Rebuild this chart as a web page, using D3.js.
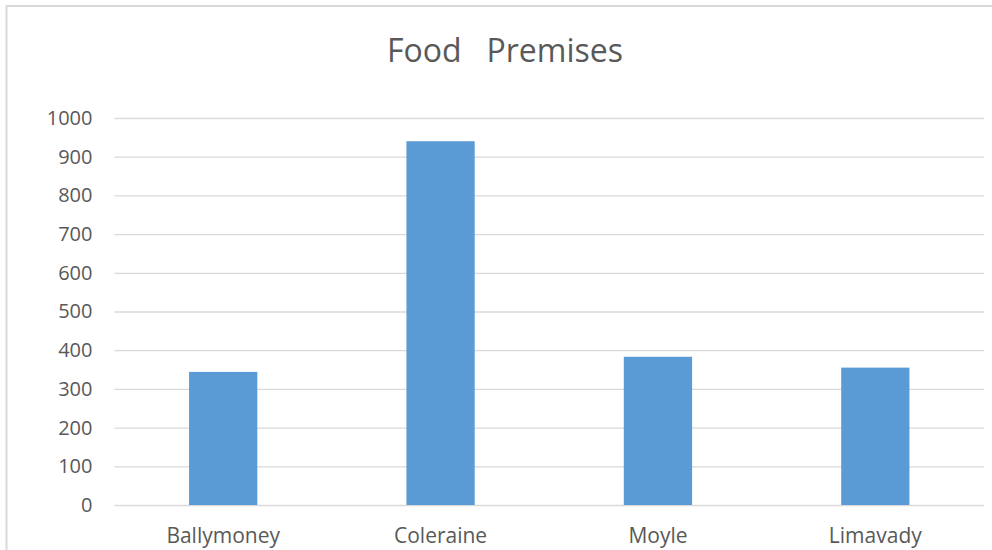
<!DOCTYPE html>
<html>
<head>
<meta charset="utf-8">
<script src="https://cdn.jsdelivr.net/npm/d3@7"></script>
<style>
  body { margin: 0; background: #fff; }
  svg { display: block; font-family: "Open Sans", sans-serif; }
</style>
</head>
<body>
<svg id="chart"></svg>
<script>
// chart data
const categories = ['Ballymoney', 'Coleraine', 'Moyle', 'Limavady'];
const values = [344, 940, 383, 355];
const yTicks = [0, 100, 200, 300, 400, 500, 600, 700, 800, 900, 1000];
const chartTitle = 'Food\u00a0\u00a0\u00a0Premises';

const width = 992, height = 550;
const margin = {top: 118, right: 8, bottom: 45, left: 114.5};
const innerW = width - margin.left - margin.right;
const innerH = height - margin.top - margin.bottom;

const svg = d3.select('#chart')
    .attr('width', width)
    .attr('height', height);

// outer chart frame (right / bottom edges fall outside the picture)
svg.append('rect')
    .attr('x', 6.5)
    .attr('y', 6)
    .attr('width', 1100)
    .attr('height', 700)
    .attr('fill', 'none')
    .attr('stroke', '#d9d9d9')
    .attr('stroke-width', 2);

svg.append('text')
    .attr('x', 505)
    .attr('y', 62)
    .attr('text-anchor', 'middle')
    .attr('fill', '#595959')
    .style('font-size', '32px')
    .text(chartTitle);

const chart = svg.append('g')
    .attr('transform', `translate(${margin.left},${margin.top})`);

const xScale = d3.scaleBand()
    .domain(categories)
    .range([0, innerW])
    .paddingInner(0.686)
    .paddingOuter(0.343);

const yScale = d3.scaleLinear()
    .domain([0, 1000])
    .range([innerH, 0]);

// gridlines
const grid = chart.append('g')
    .call(d3.axisLeft(yScale).tickValues(yTicks).tickSize(-innerW).tickFormat(''));
grid.select('.domain').remove();
grid.selectAll('line').attr('stroke', '#d9d9d9').attr('stroke-width', 1.3);

// y labels
const yAxisG = chart.append('g')
    .call(d3.axisLeft(yScale).tickValues(yTicks).tickSize(0).tickPadding(22).tickFormat(d3.format('d')));
yAxisG.select('.domain').remove();
yAxisG.selectAll('text')
    .attr('fill', '#595959')
    .style('font-family', '"Open Sans", sans-serif')
    .style('font-size', '20px');

// bars
chart.selectAll('.bar')
    .data(values)
    .join('rect')
    .attr('class', 'bar')
    .attr('x', (d, i) => xScale(categories[i]))
    .attr('y', d => yScale(d))
    .attr('width', xScale.bandwidth())
    .attr('height', d => innerH - yScale(d))
    .attr('fill', '#5b9bd5');

// x labels
const xAxisG = chart.append('g')
    .attr('transform', `translate(0,${innerH})`)
    .call(d3.axisBottom(xScale).tickSize(0).tickPadding(23));
xAxisG.select('.domain').remove();
xAxisG.selectAll('text')
    .attr('fill', '#595959')
    .style('font-family', '"Open Sans", sans-serif')
    .style('font-size', '21px');
</script>
</body>
</html>
